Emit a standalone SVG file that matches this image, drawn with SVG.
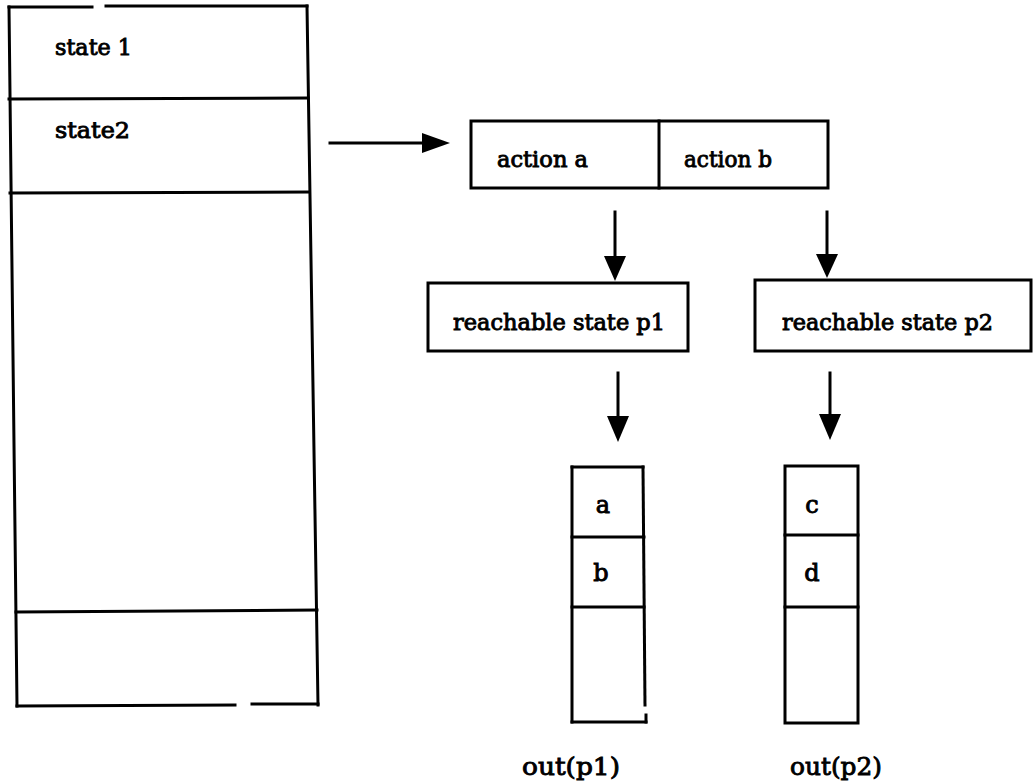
<svg xmlns="http://www.w3.org/2000/svg" width="1034" height="782" viewBox="0 0 1034 782">
  <style>
    .ln { stroke: #000; stroke-width: 3; fill: none; stroke-linecap: square; }
    .box { stroke: #000; stroke-width: 3; fill: #fff; }
    .hd { fill: #000; stroke: none; }
    text { font-family: "DejaVu Serif", "Liberation Serif", serif; fill: #000; stroke: #000; stroke-width: 0.9; }
    .t { font-size: 22px; }
    .cell { font-size: 24px; }
    .lbl { font-size: 25px; }
  </style>
  <rect width="1034" height="782" fill="#fff"/>

  <!-- state table -->
  <g id="state-table">
    <line class="ln" x1="9" y1="7" x2="92" y2="7"/>
    <line class="ln" x1="106" y1="6" x2="307" y2="6"/>
    <line class="ln" x1="9" y1="7" x2="17" y2="706"/>
    <line class="ln" x1="307" y1="6" x2="318" y2="705"/>
    <line class="ln" x1="9" y1="99" x2="308" y2="98"/>
    <line class="ln" x1="10" y1="193" x2="309" y2="192"/>
    <line class="ln" x1="16" y1="612" x2="317" y2="610"/>
    <line class="ln" x1="17" y1="706" x2="235" y2="705"/>
    <line class="ln" x1="252" y1="704" x2="318" y2="704"/>
    <text class="t" x="55" y="55" textLength="77" lengthAdjust="spacingAndGlyphs">state 1</text>
    <text class="t" x="55" y="138" textLength="75" lengthAdjust="spacingAndGlyphs">state2</text>
  </g>

  <!-- actions -->
  <g id="actions">
    <rect class="box" x="471" y="121" width="357" height="67"/>
    <line class="ln" x1="659" y1="121" x2="659" y2="188"/>
    <text class="t" x="497" y="167" textLength="91" lengthAdjust="spacingAndGlyphs">action a</text>
    <text class="t" x="684" y="167" textLength="88" lengthAdjust="spacingAndGlyphs">action b</text>
  </g>

  <!-- reachable states -->
  <g id="reach-p1">
    <rect class="box" x="428" y="283" width="260" height="68"/>
    <text class="t" x="453" y="330" textLength="212" lengthAdjust="spacingAndGlyphs">reachable state p1</text>
  </g>
  <g id="reach-p2">
    <rect class="box" x="755" y="280" width="276" height="71"/>
    <text class="t" x="782" y="330" textLength="211" lengthAdjust="spacingAndGlyphs">reachable state p2</text>
  </g>

  <!-- output stacks -->
  <g id="out-p1">
    <line class="ln" x1="572" y1="467" x2="643" y2="467"/>
    <line class="ln" x1="572" y1="467" x2="572" y2="722"/>
    <line class="ln" x1="643" y1="467" x2="645" y2="705"/>
    <line class="ln" x1="646" y1="715" x2="646" y2="722"/>
    <line class="ln" x1="572" y1="722" x2="646" y2="722"/>
    <line class="ln" x1="572" y1="537" x2="644" y2="537"/>
    <line class="ln" x1="572" y1="607" x2="644" y2="607"/>
    <text class="cell" x="603" y="513" text-anchor="middle">a</text>
    <text class="cell" x="601" y="581" text-anchor="middle">b</text>
    <text class="lbl" x="522" y="775" textLength="98" lengthAdjust="spacingAndGlyphs">out(p1)</text>
  </g>
  <g id="out-p2">
    <rect class="box" x="785" y="466" width="73" height="257"/>
    <line class="ln" x1="785" y1="535" x2="858" y2="535"/>
    <line class="ln" x1="785" y1="607" x2="858" y2="607"/>
    <text class="cell" x="812" y="513" text-anchor="middle">c</text>
    <text class="cell" x="812" y="581" text-anchor="middle">d</text>
    <text class="lbl" x="790" y="775" textLength="92" lengthAdjust="spacingAndGlyphs">out(p2)</text>
  </g>

  <!-- connectors -->
  <g id="connectors">
    <line class="ln" x1="330" y1="143" x2="425" y2="143"/>
    <polygon class="hd" points="422,133 450,143 422,153"/>

    <line class="ln" x1="615" y1="212" x2="615" y2="258"/>
    <polygon class="hd" points="604,256 626,256 615,281"/>
    <line class="ln" x1="827" y1="212" x2="827" y2="256"/>
    <polygon class="hd" points="816,254 838,254 827,278"/>

    <line class="ln" x1="618" y1="373" x2="618" y2="418"/>
    <polygon class="hd" points="607,416 629,416 618,442"/>
    <line class="ln" x1="830" y1="373" x2="830" y2="416"/>
    <polygon class="hd" points="819,414 841,414 830,440"/>
  </g>
</svg>
